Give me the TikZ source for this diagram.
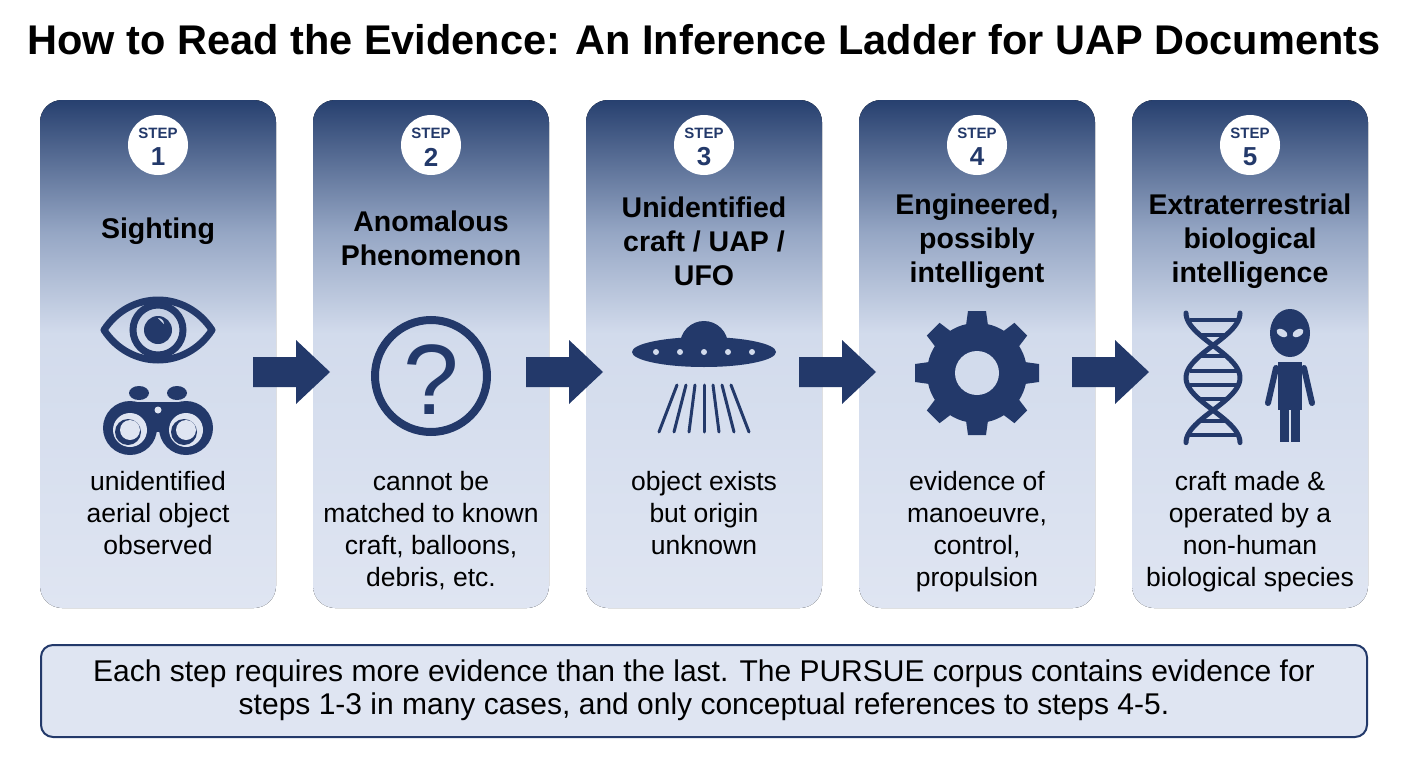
\documentclass[tikz,border=0pt]{standalone}
\usepackage{fontspec}
\setmainfont{Liberation Sans}
\usetikzlibrary{positioning}
\definecolor{navy}{HTML}{23396A}
\definecolor{pbot}{HTML}{DFE5F2}
\definecolor{pmid}{HTML}{D2DBEC}
\definecolor{pup}{HTML}{95A6C4}
\definecolor{ptop}{HTML}{27406F}
\pgfdeclareverticalshading{panelshade}{100bp}{color(0bp)=(pbot); color(25bp)=(pbot); color(52bp)=(pmid); color(62bp)=(pup); color(75bp)=(ptop); color(100bp)=(ptop)}
\begin{document}
\begin{tikzpicture}[x=1pt, y=-1pt]
\tikzstyle{panel}=[rounded corners=22pt, shading=panelshade]
\tikzstyle{badge}=[circle, fill=white, minimum size=60pt, inner sep=0pt]
\tikzstyle{steptitle}=[align=center, font=\bfseries\fontsize{28.5}{34}\selectfont]
\tikzstyle{stepnote}=[align=center, font=\fontsize{26.5}{32}\selectfont]
\tikzstyle{icon}=[fill=navy, draw=none]
\tikzstyle{iconline}=[draw=navy, line width=7pt, line cap=round]

\useasboundingbox (0,0) rectangle (1408,768);
\node (heading) at (704,40) {\bfseries\fontsize{41.5}{48}\selectfont How to Read the Evidence: An Inference Ladder for UAP Documents};

% panels, badges and arrows
\foreach \i/\x in {1/158, 2/431, 3/704, 4/977, 5/1250} {
  \fill[panel] (\x-118,100) rectangle (\x+118,608);
  \node[badge] (badge\i) at (\x,145) {};
  \node[text=navy, inner sep=0pt, font=\bfseries\fontsize{15}{15}\selectfont] at (\x,133) {STEP};
  \node[text=navy, inner sep=0pt, font=\bfseries\fontsize{26}{26}\selectfont] at (\x,157) {\i};
}
\foreach \x in {253, 526, 799, 1072} {
  \fill[navy] (\x,357) -- (\x+43,357) -- (\x+43,340) -- (\x+77,372)
    -- (\x+43,404) -- (\x+43,387) -- (\x,387) -- cycle;
}

% titles
\node[steptitle] (title1) at (158,231) {Sighting};
\node[steptitle] (title2) at (431,238) {Anomalous\\Phenomenon};
\node[steptitle] (title3) at (704,241) {Unidentified\\craft / UAP /\\UFO};
\node[steptitle] (title4) at (977,241) {Engineered,\\possibly\\intelligent};
\node[steptitle] (title5) at (1250,241) {Extraterrestrial\\biological\\intelligence};

% notes
\node[stepnote, anchor=north] (note1) at (158,468) {unidentified\\aerial object\\observed};
\node[stepnote, anchor=north] (note2) at (431,468) {cannot be\\matched to known\\craft, balloons,\\debris, etc.};
\node[stepnote, anchor=north] (note3) at (704,468) {object exists\\but origin\\unknown};
\node[stepnote, anchor=north] (note4) at (977,468) {evidence of\\manoeuvre,\\control,\\propulsion};
\node[stepnote, anchor=north] (note5) at (1250,468) {craft made \&\\operated by a\\non-human\\biological species};

% eye and binoculars
\draw[iconline, line width=7pt, line join=round] (104,330) .. controls (130,290) and (186,290) .. (212,330)
  .. controls (186,370) and (130,370) .. cycle;
\draw[navy, line width=7pt] (158,330) circle (25);
\fill[navy] (158,330) circle (14);
\fill[pmid] (164,324) arc (0:-90:6) -- cycle;
\fill[icon] (118,420) rectangle (198,432);
\fill[icon] (126,402) rectangle (190,425);
\fill[icon] (130,428) circle (27);
\fill[icon] (186,428) circle (27);
\fill[pbot] (130,430) circle (17);
\fill[pbot] (186,430) circle (17);
\fill[icon] (128,432) circle (13);
\fill[icon] (184,432) circle (13);
\fill[pbot] (130,430) circle (10);
\fill[pbot] (186,430) circle (10);
\fill[pbot] (158,410) circle (3.5);
\fill[icon] (139,393) ellipse (10 and 7);
\fill[icon] (177,393) ellipse (10 and 7);

% question mark
\draw[navy, line width=8pt] (431,376) circle (56);
\node[text=navy] (qmark) at (431,380) {\fontsize{100}{100}\selectfont ?};

% saucer
\fill[icon] (680,345) arc (180:360:24) -- cycle;
\fill[icon] (704,352) ellipse (72 and 15);
\foreach \dx in {-48,-24,0,24,48} \fill[pmid] (704+\dx,352) circle (3);
\foreach \a in {-60,-40,-20,0,20,40,60}
  \draw[navy, line width=3pt, line cap=round] (704+\a*0.45,385) -- (704+\a*0.75,432);

% gear
\foreach \a in {0,45,...,315}
  \fill[icon, rotate around={\a:(977,373)}] (964,340) -- (968,311) -- (986,311) -- (990,340) -- cycle;
\fill[icon] (977,373) circle (50);
\fill[pmid] (977,373) circle (22);

% dna
\draw[navy, line width=5pt, line cap=round, domain=0:180, samples=60, variable=\t]
  plot ({1213+27*cos(\t*2)}, {313+\t*0.72});
\draw[navy, line width=5pt, line cap=round, domain=0:180, samples=60, variable=\t]
  plot ({1213-27*cos(\t*2)}, {313+\t*0.72});
\foreach \t in {10,30,60,80,100,120,150,170}
  \draw[navy, line width=4pt] ({1213-25*abs(cos(\t*2))},{313+\t*0.72}) -- ({1213+25*abs(cos(\t*2))},{313+\t*0.72});

% alien
\fill[icon] (1290,333) ellipse (20 and 24);
\fill[pmid, rotate around={-30:(1282,333)}] (1282,333) ellipse (6 and 3.5);
\fill[pmid, rotate around={30:(1298,333)}] (1298,333) ellipse (6 and 3.5);
\fill[icon] (1278,362) rectangle (1302,410);
\fill[icon] (1280,405) rectangle (1289,442);
\fill[icon] (1291,405) rectangle (1300,442);
\draw[navy, line width=6pt, line cap=round] (1276,368) -- (1268,403);
\draw[navy, line width=6pt, line cap=round] (1304,368) -- (1312,403);

% summary box
\draw[navy, line width=2pt, fill=pbot, rounded corners=12pt] (41,645) rectangle (1367,737);
\node[align=center, font=\fontsize{30}{33}\selectfont] (summary) at (704,690)
  {Each step requires more evidence than the last. The PURSUE corpus contains evidence for\\
   steps 1-3 in many cases, and only conceptual references to steps 4-5.};
\end{tikzpicture}
\end{document}
